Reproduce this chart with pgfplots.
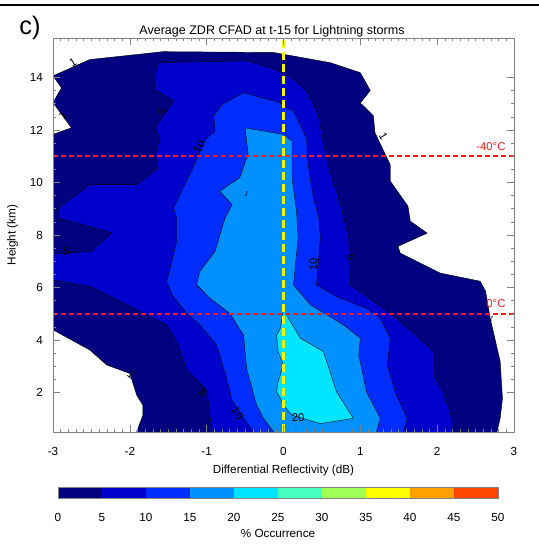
\documentclass[border=0pt]{standalone}
\usepackage{fontspec}
\setmainfont{Liberation Sans}
\usepackage{pgfplots}
\pgfplotsset{compat=1.18}

\definecolor{cA}{RGB}{0,0,128}
\definecolor{cB}{RGB}{0,0,205}
\definecolor{cC}{RGB}{0,45,255}
\definecolor{cD}{RGB}{0,145,255}
\definecolor{cE}{RGB}{0,229,255}
\definecolor{cF}{RGB}{70,255,190}
\definecolor{cG}{RGB}{160,255,85}
\definecolor{cH}{RGB}{255,255,0}
\definecolor{cI}{RGB}{255,160,0}
\definecolor{cJ}{RGB}{255,70,0}
\definecolor{framegray}{RGB}{130,130,130}
\definecolor{isored}{RGB}{255,25,25}
\definecolor{zeroyellow}{RGB}{245,245,0}

\begin{document}
\begin{tikzpicture}
\path[use as bounding box] (0,0) rectangle (404.25pt,-408pt);
\draw[line width=1.2pt] (0,-3.75pt) -- (404.25pt,-3.75pt);
\node at (22.5pt,-21pt) {\fontsize{19}{21}\selectfont c)};
\node at (204pt,-23.5pt) {\fontsize{9.4}{11}\selectfont Average ZDR CFAD at t-15 for Lightning storms};

\begin{axis}[
    at={(39.75pt,-324pt)}, anchor=south west,
    scale only axis, width=345.75pt, height=295.5pt,
    xmin=-3, xmax=3, ymin=0.5, ymax=15.5,
    xtick={-3,-2,...,3}, ytick={2,4,...,14},
    minor x tick num=9, minor y tick num=3,
    tick pos=both, tick align=inside,
    major tick length=5pt, minor tick length=2.5pt,
    every tick/.style={framegray, line width=0.4pt},
    axis line style={framegray, line width=0.5pt},
    axis on top,
    /pgf/number format/assume math mode=true,
    ticklabel style={font=\fontsize{8.8}{10}\selectfont},
    xticklabel style={yshift=-8pt},
    yticklabel style={xshift=-4pt},
    xlabel={Differential Reflectivity (dB)},
    ylabel={Height (km)},
    label style={font=\fontsize{8.8}{10}\selectfont},
    xlabel style={yshift=0pt},
    ylabel style={yshift=2pt},
    clip=true,
]
% >= 1 %
\addplot[fill=cA, draw=black, line width=0.3pt] coordinates {
 (-1.91,0.2) (2.78,0.2) (2.78,0.52) (2.82,1.02) (2.85,1.78) (2.82,3.19) (2.69,4.83)
 (2.63,5.86) (2.56,6.24) (2.04,6.55) (1.52,7.31) (1.49,7.57) (1.87,8.07) (1.65,8.53)
 (1.62,9.1) (1.39,10.05) (1.39,10.67) (1.19,11.9) (1.17,12.54) (1.0,13.03) (1.13,13.5)
 (1.0,14.18) (0.61,14.56) (-0.13,14.95) (-1.57,14.98) (-2.52,14.68) (-3.0,14.06)
 (-2.89,13.6) (-3.0,13.04) (-2.76,12.08) (-3.0,11.83) (-3.2,11.83) (-3.2,4.39)
 (-3.0,4.39) (-2.52,3.62) (-2.3,3.05) (-2.0,2.73) (-1.91,1.9) (-1.83,1.52) (-1.83,1.14)
 (-1.91,0.52)
} -- cycle;
% >= 5 %
\addplot[fill=cB, draw=black, line width=0.3pt] coordinates {
 (-0.93,0.2) (2.19,0.2) (2.19,1.02) (2.08,2.03) (1.95,2.67) (1.95,3.56) (1.82,3.94)
 (1.39,5.02) (0.87,6.1) (0.85,7.9) (0.74,9.16) (0.58,10.68) (0.52,11.5) (0.45,12.6)
 (0.3,13.5) (0.1,14.0) (-0.15,14.35) (-0.48,14.63) (-1.65,14.56) (-1.68,13.55)
 (-1.43,13.1) (-1.67,12.08) (-1.61,11.7) (-1.67,11.07) (-1.63,10.56) (-1.91,9.92)
 (-2.52,9.92) (-2.93,9.03) (-2.91,8.64) (-2.24,8.08) (-2.5,7.38) (-3.0,7.27)
 (-3.2,7.27) (-3.2,6.29) (-3.0,6.29) (-2.52,6.04) (-2.0,5.28) (-1.52,4.58) (-1.37,3.81)
 (-1.26,2.86) (-1.0,2.1) (-0.93,0.5)
} -- cycle;
% >= 10 %
\addplot[fill=cC, draw=black, line width=0.3pt] coordinates {
 (-0.39,0.2) (1.56,0.2) (1.56,0.51) (1.61,1.02) (1.47,1.9) (1.35,3.05) (1.39,4.07)
 (1.26,4.83) (1.08,5.21) (0.69,5.66) (0.43,6.1) (0.48,7.89) (0.46,8.65) (0.39,9.41)
 (0.32,10.68) (0.30,11.7) (0.13,12.72) (0.0,12.9) (-0.04,13.03) (-0.52,13.42)
 (-0.80,12.97) (-0.91,12.53) (-0.89,11.96) (-1.0,11.7) (-1.09,11.19) (-1.19,10.49)
 (-1.39,9.29) (-1.43,9.03) (-1.39,8.65) (-1.39,7.76) (-1.52,6.23) (-1.45,5.72)
 (-1.26,5.02) (-1.09,4.58) (-0.87,3.81) (-0.74,2.54) (-0.67,1.71) (-0.52,1.02)
 (-0.39,0.51)
} -- cycle;
% >= 15 %
\addplot[fill=cD, draw=black, line width=0.3pt] coordinates {
 (-0.13,0.2) (1.21,0.2) (1.21,0.51) (1.26,1.02) (1.08,2.03) (0.98,3.43) (1.0,4.07)
 (0.78,4.58) (0.35,5.34) (0.13,6.1) (0.19,7.89) (0.17,8.9) (0.11,10.18) (0.11,11.58)
 (0.0,11.83) (-0.5,12.08) (-0.46,11.07) (-0.57,10.18) (-0.83,9.67) (-0.67,9.16)
 (-0.76,8.65) (-0.80,8.27) (-0.89,7.38) (-1.09,6.61) (-1.13,6.1) (-0.96,5.6)
 (-0.70,5.02) (-0.52,4.19) (-0.48,2.92) (-0.35,1.52) (-0.26,1.02) (-0.13,0.51)
} -- cycle;
% >= 20 %
\addplot[fill=cE, draw=black, line width=0.3pt] coordinates {
 (0.0,5.15) (-0.04,4.45) (-0.09,4.19) (-0.07,3.56) (0.0,3.05) (-0.07,2.42)
 (-0.09,2.03) (-0.04,1.78) (0.0,1.52) (0.11,1.14) (0.48,0.82) (0.91,1.02)
 (0.69,2.03) (0.52,3.56) (0.22,4.07)
} -- cycle;

% isotherms and zero line
\addplot[draw=isored, line width=1.1pt, dash pattern=on 3.5pt off 2.5pt] coordinates {(-3,11) (3,11)};
\addplot[draw=isored, line width=1.1pt, dash pattern=on 3.5pt off 2.5pt] coordinates {(-3,5) (3,5)};
\addplot[draw=zeroyellow, line width=1.6pt, dash pattern=on 6pt off 3pt] coordinates {(0,0.5) (0,15.5)};
\node[text=isored, anchor=east, font=\fontsize{8.5}{9}\selectfont] at (axis cs:2.95,11.38) {-40°C};
\node[text=isored, anchor=east, font=\fontsize{8.5}{9}\selectfont] at (axis cs:2.95,5.4) {0°C};

% contour labels
\begin{scope}[every node/.style={font=\fontsize{8.5}{9}\selectfont, inner sep=0pt}]
\node[rotate=30] at (axis cs:-2.74,14.56) {1};
\node[rotate=50] at (axis cs:-2.87,12.53) {1};
\node[rotate=70] at (axis cs:-1.58,12.66) {5};
\node[rotate=60] at (axis cs:-1.1,11.36) {10};
\node[rotate=-60] at (axis cs:1.30,11.77) {1};
\node[rotate=-20, font=\fontsize{5}{6}\selectfont] at (axis cs:-0.48,9.56) {1};
\node at (axis cs:-2.82,7.38) {5};
\node[rotate=-40] at (axis cs:-1.98,2.67) {1};
\node[rotate=-60] at (axis cs:-1.06,2.03) {5};
\node[rotate=-60] at (axis cs:-0.6,1.22) {10};
\node[rotate=90] at (axis cs:0.39,6.87) {10};
\node[rotate=-90] at (axis cs:0.87,7.12) {5};
\node at (axis cs:0.19,1.04) {20};
\node[rotate=-30, font=\fontsize{5}{6}\selectfont] at (axis cs:2.71,4.83) {1};
\end{scope}
\end{axis}

% colour bar
\begin{axis}[
    at={(43.5pt,-373.5pt)}, anchor=south west,
    scale only axis, width=330pt, height=8.25pt,
    xmin=0, xmax=50, ymin=0, ymax=1,
    xtick={0,5,...,50}, ytick=\empty,
    major tick length=0pt,
    axis line style={framegray, line width=0.5pt},
    axis on top,
    /pgf/number format/assume math mode=true,
    ticklabel style={font=\fontsize{8.8}{10}\selectfont},
    xticklabel style={yshift=-8pt},
    xlabel={\% Occurrence},
    xlabel style={font=\fontsize{8.8}{10}\selectfont, yshift=1pt},
]
\addplot[fill=cA, draw=none] coordinates {(0,0) (5,0) (5,1) (0,1)} -- cycle;
\addplot[fill=cB, draw=none] coordinates {(5,0) (10,0) (10,1) (5,1)} -- cycle;
\addplot[fill=cC, draw=none] coordinates {(10,0) (15,0) (15,1) (10,1)} -- cycle;
\addplot[fill=cD, draw=none] coordinates {(15,0) (20,0) (20,1) (15,1)} -- cycle;
\addplot[fill=cE, draw=none] coordinates {(20,0) (25,0) (25,1) (20,1)} -- cycle;
\addplot[fill=cF, draw=none] coordinates {(25,0) (30,0) (30,1) (25,1)} -- cycle;
\addplot[fill=cG, draw=none] coordinates {(30,0) (35,0) (35,1) (30,1)} -- cycle;
\addplot[fill=cH, draw=none] coordinates {(35,0) (40,0) (40,1) (35,1)} -- cycle;
\addplot[fill=cI, draw=none] coordinates {(40,0) (45,0) (45,1) (40,1)} -- cycle;
\addplot[fill=cJ, draw=none] coordinates {(45,0) (50,0) (50,1) (45,1)} -- cycle;
\end{axis}
\end{tikzpicture}
\end{document}
